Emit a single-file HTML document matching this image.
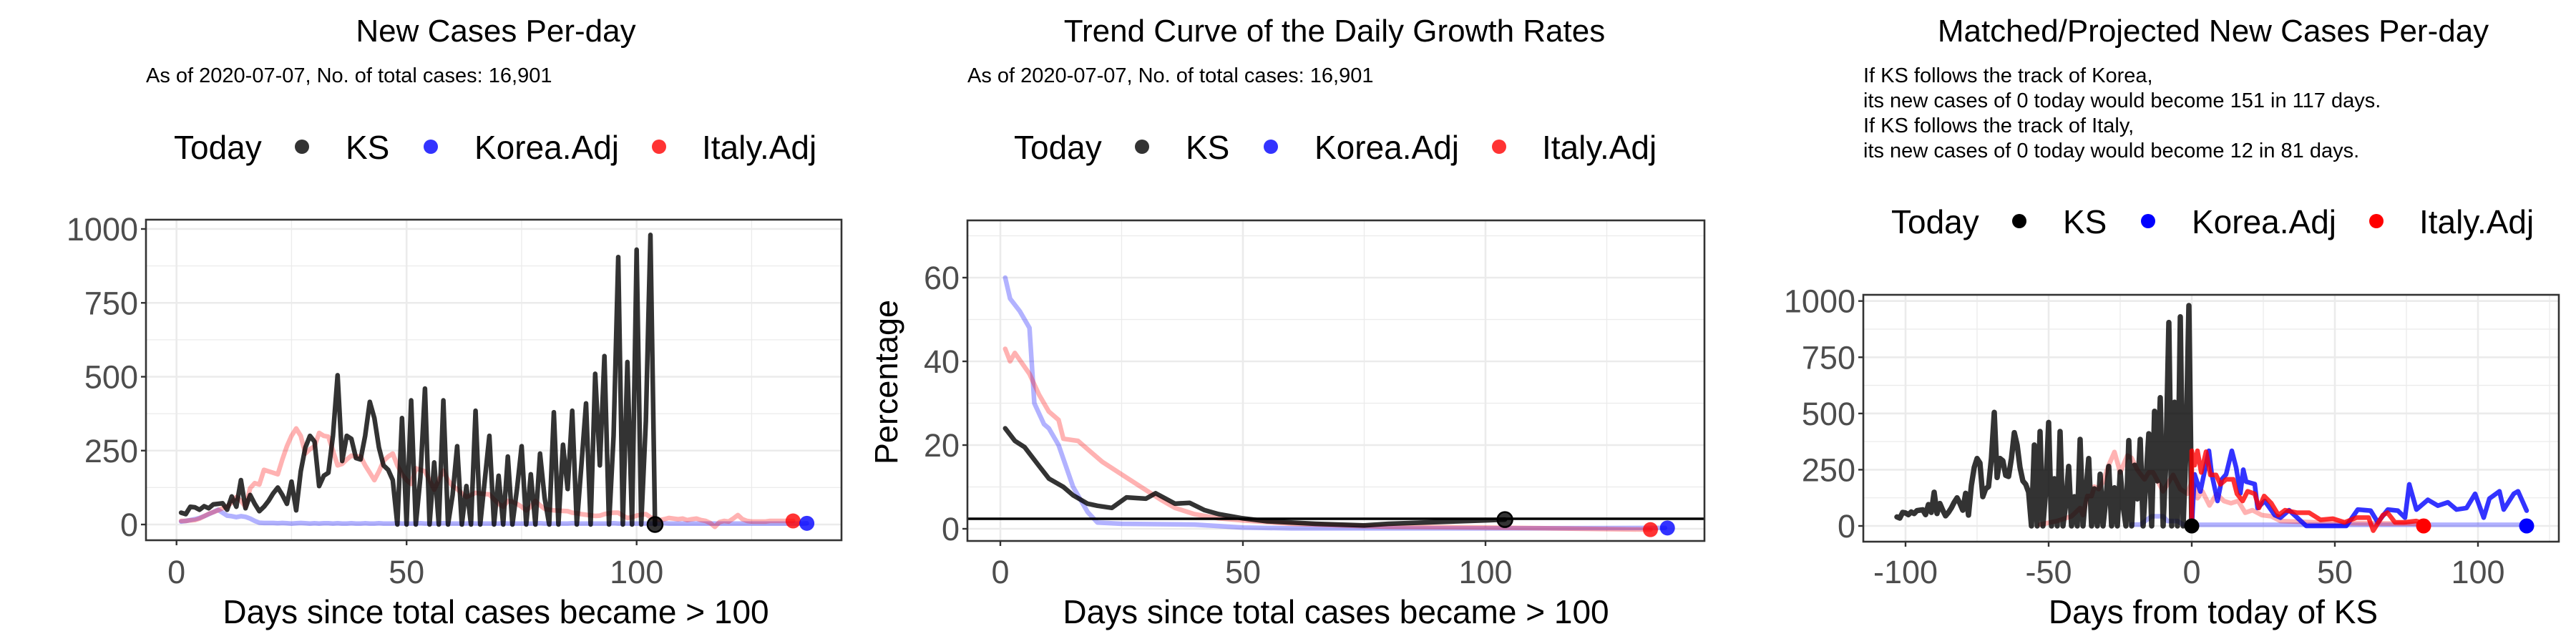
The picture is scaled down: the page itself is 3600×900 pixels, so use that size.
<!DOCTYPE html>
<html><head><meta charset="utf-8"><style>
html,body{margin:0;padding:0;background:#fff;}
svg{display:block;font-family:"Liberation Sans",Arial,sans-serif;}
</style></head><body>
<svg id="chart" width="3600" height="900" viewBox="0 0 3600 900" xmlns="http://www.w3.org/2000/svg">
<rect width="3600" height="900" fill="#fff"/>
<text x="693" y="58" font-size="44" text-anchor="middle">New Cases Per-day</text>
<text x="204" y="115" font-size="29">As of 2020-07-07, No. of total cases: 16,901</text>
<text x="1865" y="58" font-size="44" text-anchor="middle">Trend Curve of the Daily Growth Rates</text>
<text x="1352" y="115" font-size="29">As of 2020-07-07, No. of total cases: 16,901</text>
<text x="3093" y="58" font-size="44" text-anchor="middle">Matched/Projected New Cases Per-day</text>
<g font-size="29">
<text x="2604" y="115">If KS follows the track of Korea,</text>
<text x="2604" y="150">its new cases of 0 today would become 151 in 117 days.</text>
<text x="2604" y="185">If KS follows the track of Italy,</text>
<text x="2604" y="220">its new cases of 0 today would become 12 in 81 days.</text>
</g>
<text x="693" y="871" font-size="46" text-anchor="middle">Days since total cases became &gt; 100</text>
<text x="1867" y="871" font-size="46" text-anchor="middle">Days since total cases became &gt; 100</text>
<text x="3093" y="871" font-size="46" text-anchor="middle">Days from today of KS</text>
<text x="1254" y="534" font-size="45" text-anchor="middle" transform="rotate(-90 1254 534)">Percentage</text>
</svg>
<script>
// ---------- DATA ----------
const ksNew = [40,35,60,58,50,62,55,68,70,72,50,95,60,150,55,100,70,45,60,80,105,125,100,70,145,48,180,260,300,280,130,165,175,300,505,215,300,290,225,220,300,415,360,260,200,185,150,
0,360,0,420,0,160,460,0,210,0,420,0,100,265,0,130,0,385,0,150,300,0,165,0,230,0,120,265,0,170,0,240,90,0,380,0,270,120,385,0,200,410,0,510,200,570,0,300,905,0,550,0,930,0,350,980,0];
const koreaNew = [10,12,15,18,22,28,35,42,50,40,30,28,25,28,26,20,12,6,5,5,
5,4,5,4,3,4,5,4,3,4,3,4,4,3,4,3,3,4,3,3,4,3,3,4,3,3,3,4,3,3,
3,3,4,3,3,3,3,4,3,3,3,3,3,4,3,3,3,3,3,3,4,3,3,3,3,3,3,3,4,3,
3,3,3,3,3,4,3,3,3,3,3,3,3,3,4,3,3,3,3,3,3,3,3,3,3,4,3,3,3,3,
3,3,3,3,3,3,3,3,3,3,3,3,3,3,3,3,3,3,3,3,3,3,3,3,3,3,4];
const italyNew = [12,12,14,15,20,28,36,42,48,55,60,75,93,80,60,123,140,135,185,180,175,170,220,265,300,325,300,240,255,265,310,300,297,250,200,205,220,233,230,230,200,175,150,180,215,230,240,200,170,150,
137,190,185,180,150,118,150,182,150,130,120,105,93,100,107,105,103,102,85,70,60,80,77,70,60,48,60,80,65,53,50,48,47,46,45,40,38,35,33,31,29,30,35,38,40,40,30,22,25,30,
33,35,25,20,15,18,22,20,18,20,15,18,20,15,12,5,-8,8,12,10,20,32,18,12,10,10,10,10,12,12,12,12,12,12];
const ksRateDays = [1,3,5,8,10,13,15,18,20,23,26,30,32,36,39,42,45,50,55,60,65,70,75,80,90,100,104];
const ksRate = [24,21,19.5,15,12,10,8,6,5.5,5,7.5,7.2,8.5,6,6.2,4.5,3.5,2.5,1.8,1.5,1.2,1,0.8,1.2,1.6,2,2.2];
const koreaRateDays = [1,2,4,6,7,9,10,12,15,18,20,25,40,50,60,100,137];
const koreaRate = [60,55,52,48,30,25,24,20,10,4,1.5,1.2,1.0,0.3,0.1,0.1,0.2];
const italyRateDays = [1,2,3,6,8,10,12,13,16,19,21,25,29,33,36,40,45,50,60,70,80,100,134];
const italyRate = [43,40,42,37,32,28,26,21.5,21,18,16,13,10,7,5,3.5,2.5,2,1.2,0.8,0.5,0.3,-0.2];
const todayRateLine = 2.4;
const p3KoreaPreX = [-21,-18,-14,-10,-8.5,-5,-3,0];
const p3KoreaPre = [6,6,43,43,22,22,6,0];
const p3KoreaProjX = [0,1,3,6,7,9,10.5,12,14,15.5,17,18,19,22,23,25.5,29,31,34,40,46,54,58,62.5,65,68.5,72,74.5,76,78.5,82.5,86,89.5,92.5,96,99,102,104,107.5,109,112.5,114,117];
const p3KoreaProj = [0,229,153,334,229,111,207,229,334,260,145,250,197,186,80,111,48,37,70,0,0,0,73,68,16,73,68,37,185,73,116,90,105,73,80,143,37,122,154,73,143,154,68];
const p3ItalyPreX = [-53,-47,-42,-39,-38,-36.5,-35,-34,-32.5,-31,-29,-27,-25,-22.5,-21,-19,-16.5,-15,-13.5,-10,-6.5,-4,-1.5,0];
const p3ItalyPre = [6,22,43,80,48,133,133,175,164,196,270,329,238,313,302,249,207,238,238,154,227,164,143,196];
const p3ItalyProjX = [0,0,1,2,3.3,5,6.5,8.5,10,12,14.5,15.8,17.8,19.5,22,23.5,25.3,27.8,30.3,32.6,36.8,41,45,49.3,53.4,57.6,61.8,63.4,66.8,68.4,71,74.3,78.4,81];
const p3ItalyProj = [0,334,270,334,238,330,227,227,185,207,207,143,111,154,143,80,133,101,48,70,59,59,27,32,16,37,37,-21,48,59,16,16,22,12];
const p3ItalyLightX = [0,1,2,3.7,6.2,8.7,11.2,13.7,16.2,18.7,21.2,24.5,27.8,31,35,45,60,81];
const p3ItalyLight = [196,175,123,154,91,143,111,101,111,59,70,48,43,22,20,15,12,10];
const p3KoreaLightX = [0,117];
const p3KoreaLight = [5,5];
// ---------- DRAW ----------
const NS='http://www.w3.org/2000/svg';
const svg=document.getElementById('chart');
function el(tag,attrs,parent){const e=document.createElementNS(NS,tag);for(const k in attrs)e.setAttribute(k,attrs[k]);(parent||svg).appendChild(e);return e;}
function makeAxes(P,name){
  const g=el('g',{});
  
  
  P.minX.forEach(v=>{const x=P.x(v);if(x>P.L&&x<P.R){const l=el('line',{x1:x,x2:x,y1:P.T,y2:P.B,stroke:'#ebebeb','stroke-width':1.3},g);
  
  }});
  P.minY.forEach(v=>{const y=P.y(v);if(y>P.T&&y<P.B){const l=el('line',{x1:P.L,x2:P.R,y1:y,y2:y,stroke:'#ebebeb','stroke-width':1.3},g);
  
  }});
  P.xt.forEach(v=>{const x=P.x(v);const l=el('line',{x1:x,x2:x,y1:P.T,y2:P.B,stroke:'#ebebeb','stroke-width':2.6},g);
  
  
  const t=el('line',{x1:x,x2:x,y1:P.B,y2:P.B+7,stroke:'#333','stroke-width':2.4},g);
  
  
  const tx=el('text',{x:x,y:815,'font-size':45,fill:'#4d4d4d','text-anchor':'middle'},g);tx.textContent=String(v);
  
  });
  P.yt.forEach(v=>{const y=P.y(v);const l=el('line',{x1:P.L,x2:P.R,y1:y,y2:y,stroke:'#ebebeb','stroke-width':2.6},g);
  
  
  const t=el('line',{x1:P.L-7,x2:P.L,y1:y,y2:y,stroke:'#333','stroke-width':2.4},g);
  
  
  const tx=el('text',{x:P.L-11,y:y+16,'font-size':45,fill:'#4d4d4d','text-anchor':'end'},g);tx.textContent=String(v);
  
  });
  const cp=el('clipPath',{id:name+'-clip'});el('rect',{x:P.L,y:P.T,width:P.R-P.L,height:P.B-P.T},cp);
  const sg=el('g',{'clip-path':'url(#'+name+'-clip)'});
  
  
  P.sg=sg;
  return g;
}
function border(P,name){const b=el('rect',{x:P.L,y:P.T,width:P.R-P.L,height:P.B-P.T,fill:'none',stroke:'#333','stroke-width':2.6});
  
  }
function line(P,xs,vs,color,op,nm,w){const pts=xs.map((d,i)=>P.x(d).toFixed(1)+','+P.y(vs[i]).toFixed(1)).join(' ');
  const p=el('polyline',{points:pts,fill:'none',stroke:color,'stroke-opacity':op,'stroke-width':w||6.5,'stroke-linejoin':'round','stroke-linecap':'round'},P.sg);
  
  }
function dot(P,d,v,color,op,nm,stroke){const c=el('circle',{cx:P.x(d),cy:P.y(v),r:10.5,fill:color,'fill-opacity':op,stroke:stroke||'none','stroke-width':2.5});
  
  }
function legend(ox,oy,name,cols,op){
  const g=el('g',{});
  
  
  const t=el('text',{x:ox,y:oy+17,'font-size':46},g);t.textContent='Today';
  
  
  const items=[['KS',179,240],['Korea.Adj',359,420],['Italy.Adj',678,738]];
  items.forEach((it,i)=>{const c=el('circle',{cx:ox+it[1],cy:oy,r:10,fill:cols[i],'fill-opacity':op},g);
    
    
    const tx=el('text',{x:ox+it[2],y:oy+17,'font-size':46},g);tx.textContent=it[0];
    
    });
}
const days=a=>a.map((_,i)=>i+1);
// Panel 1
const P1={L:204,R:1176,T:307,B:755,x:d=>246.7+d*6.43,y:v=>733-v*0.413,xt:[0,50,100],yt:[0,250,500,750,1000],minX:[25,75,125],minY:[125,375,625,875]};
makeAxes(P1,'chart1');
line(P1,days(koreaNew),koreaNew,'#0000ff',0.3,'chart1-korea-line');
line(P1,days(italyNew),italyNew,'#ff0000',0.3,'chart1-italy-line');
line(P1,days(ksNew),ksNew,'#000',0.8,'chart1-ks-line');
border(P1,'chart1');
dot(P1,ksNew.length,ksNew[ksNew.length-1],'#000',0.8,'chart1-ks-today-dot','#000');
dot(P1,italyNew.length,italyNew[italyNew.length-1],'#ff0000',0.8,'chart1-italy-today-dot');
dot(P1,koreaNew.length,koreaNew[koreaNew.length-1],'#0000ff',0.8,'chart1-korea-today-dot');
legend(243,205,'chart1',['#000','#0000ff','#ff0000'],0.8);
// Panel 2
const P2={L:1352,R:2382,T:308,B:756,x:d=>1398+d*6.78,y:v=>739-v*5.85,xt:[0,50,100],yt:[0,20,40,60],minX:[25,75,125],minY:[10,30,50,70]};
makeAxes(P2,'chart2');
line(P2,koreaRateDays,koreaRate,'#0000ff',0.3,'chart2-korea-line');
line(P2,italyRateDays,italyRate,'#ff0000',0.3,'chart2-italy-line');
line(P2,ksRateDays,ksRate,'#000',0.8,'chart2-ks-line');
const hl=el('line',{x1:P2.L,x2:P2.R,y1:P2.y(todayRateLine),y2:P2.y(todayRateLine),stroke:'#000','stroke-width':3.5});


border(P2,'chart2');
dot(P2,ksRateDays[ksRateDays.length-1],ksRate[ksRate.length-1],'#000',0.8,'chart2-ks-today-dot','#000');
dot(P2,italyRateDays[italyRateDays.length-1],italyRate[italyRate.length-1],'#ff0000',0.8,'chart2-italy-today-dot');
dot(P2,koreaRateDays[koreaRateDays.length-1]+0.5,koreaRate[koreaRate.length-1],'#0000ff',0.8,'chart2-korea-today-dot');
legend(1417,205,'chart2',['#000','#0000ff','#ff0000'],0.8);
// Panel 3
const P3={L:2604,R:3576,T:412,B:757,x:d=>3063+d*4.0,y:v=>735-v*0.3143,xt:[-100,-50,0,50,100],yt:[0,250,500,750,1000],minX:[-75,-25,25,75,125],minY:[125,375,625,875]};
makeAxes(P3,'chart3');
line(P3,p3KoreaLightX,p3KoreaLight,'#0000ff',0.3,'chart3-korea-adj-line');
line(P3,p3ItalyLightX,p3ItalyLight,'#ff0000',0.3,'chart3-italy-adj-line');
line(P3,p3ItalyPreX,p3ItalyPre,'#ff0000',0.3,'chart3-italy-matched-line');
line(P3,p3KoreaPreX,p3KoreaPre,'#0000ff',0.3,'chart3-korea-matched-line');
line(P3,ksNew.map((_,i)=>i+1-ksNew.length),ksNew,'#000',0.8,'chart3-ks-line',7.5);
line(P3,p3KoreaProjX,p3KoreaProj,'#0000ff',0.8,'chart3-korea-projected-line');
line(P3,p3ItalyProjX,p3ItalyProj,'#ff0000',0.8,'chart3-italy-projected-line');
border(P3,'chart3');
dot(P3,0,0,'#000',1,'chart3-ks-today-dot');
dot(P3,p3ItalyProjX[p3ItalyProjX.length-1],0,'#ff0000',1,'chart3-italy-end-dot');
dot(P3,p3KoreaProjX[p3KoreaProjX.length-1],0,'#0000ff',1,'chart3-korea-end-dot');
legend(2643,309,'chart3',['#000','#0000ff','#ff0000'],1);
</script>
</body></html>
